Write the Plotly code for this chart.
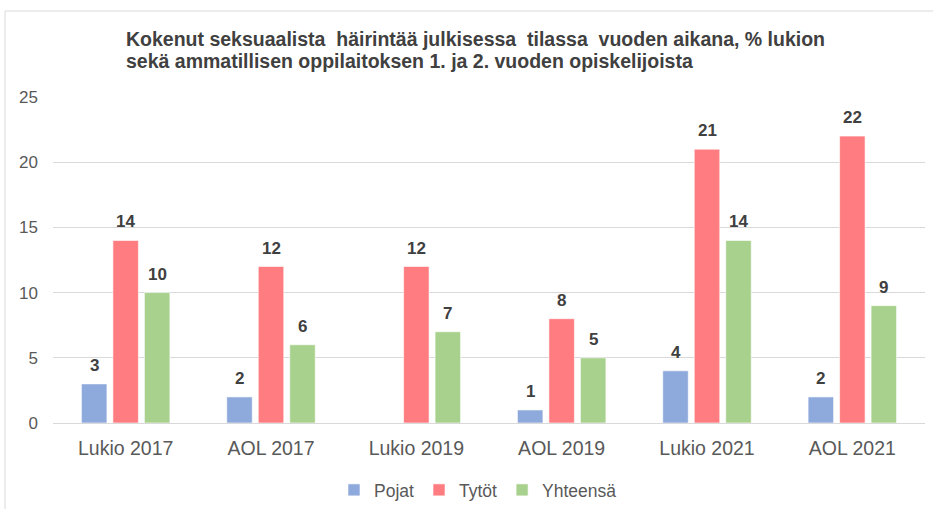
import plotly.graph_objects as go

categories = ["Lukio 2017", "AOL 2017", "Lukio 2019", "AOL 2019", "Lukio 2021", "AOL 2021"]
pojat = [3, 2, None, 1, 4, 2]
tytot = [14, 12, 12, 8, 21, 22]
yhteensa = [10, 6, 7, 5, 14, 9]
series_names = ["Pojat", "Tytöt", "Yhteensä"]
colors = ["#8EA9DB", "#FF7C80", "#A9D18E"]
y_ticks = [0, 5, 10, 15, 20, 25]
title_lines = ["Kokenut seksuaalista  häirintää julkisessa  tilassa  vuoden aikana, % lukion",
               "sekä ammatillisen oppilaitoksen 1. ja 2. vuoden opiskelijoista"]

FONT = "Liberation Sans, Arial, sans-serif"
W, H = 933, 509
ML, MR, MT, MB = 53, 8, 97, 86
BARGAP = 0.35
plot_w = W - ML - MR
plot_h = H - MT - MB
slot = plot_w / len(categories) * (1 - BARGAP) / 3


def px_to_paper_x(px):
    return (px - ML) / plot_w


def px_to_paper_y(py):
    return (H - MB - py) / plot_h


fig = go.Figure()
all_series = [pojat, tytot, yhteensa]
for name, vals, col in zip(series_names, all_series, colors):
    fig.add_trace(go.Bar(
        x=categories, y=vals, name=name,
        marker=dict(color=col, line=dict(color="white", width=0.6)),
        hoverinfo="x+y+name",
    ))

annotations = []
for i, vals in enumerate(all_series):
    for c, v in zip(categories, vals):
        if v is None:
            continue
        annotations.append(dict(
            x=c, y=v, xref="x", yref="y", text=f"<b>{v}</b>", showarrow=False,
            xshift=(i - 1) * slot, yshift=7, yanchor="bottom",
            font=dict(family=FONT, size=17, color="#404040"),
        ))

for line, ypx in zip(title_lines, [39, 61]):
    annotations.append(dict(
        x=px_to_paper_x(124), y=px_to_paper_y(ypx), xref="paper", yref="paper",
        xanchor="left", yanchor="middle", align="left", showarrow=False,
        text=f"<b>{line}</b>",
        font=dict(family=FONT, size=19.5, color="#404040"),
    ))

fig.update_layout(
    width=W, height=H,
    margin=dict(l=ML, r=MR, t=MT, b=MB, autoexpand=False),
    paper_bgcolor="white", plot_bgcolor="white",
    barmode="group", bargap=BARGAP, bargroupgap=0.19,
    font=dict(family=FONT, color="#595959"),
    showlegend=True,
    legend=dict(orientation="h", x=px_to_paper_x(478), y=px_to_paper_y(490),
                xanchor="center", yanchor="middle",
                font=dict(family=FONT, size=17.5, color="#595959"),
                itemwidth=30, tracegroupgap=0),
    annotations=annotations,
    shapes=[dict(type="rect", xref="paper", yref="paper",
                 x0=px_to_paper_x(5), x1=px_to_paper_x(940),
                 y0=px_to_paper_y(520), y1=px_to_paper_y(11),
                 line=dict(color="#D9D9D9", width=1), layer="below")],
)
fig.update_xaxes(
    automargin=False,
    showgrid=False, showline=True, linecolor="#D9D9D9", linewidth=1,
    tickfont=dict(family=FONT, size=19.5, color="#595959"),
    ticks="", ticklabelstandoff=8,
)
fig.update_yaxes(
    automargin=False,
    range=[0, 25], tickvals=y_ticks, showgrid=True, gridcolor="#D9D9D9",
    gridwidth=1, zeroline=True, zerolinecolor="#D9D9D9", zerolinewidth=1,
    tickfont=dict(family=FONT, size=17, color="#595959"),
    ticks="", ticklabelstandoff=14,
)

fig.write_html(
    "out.html",
    config={"displayModeBar": False},
    post_script="document.body.style.margin='0';document.body.style.overflow='hidden';",
)
